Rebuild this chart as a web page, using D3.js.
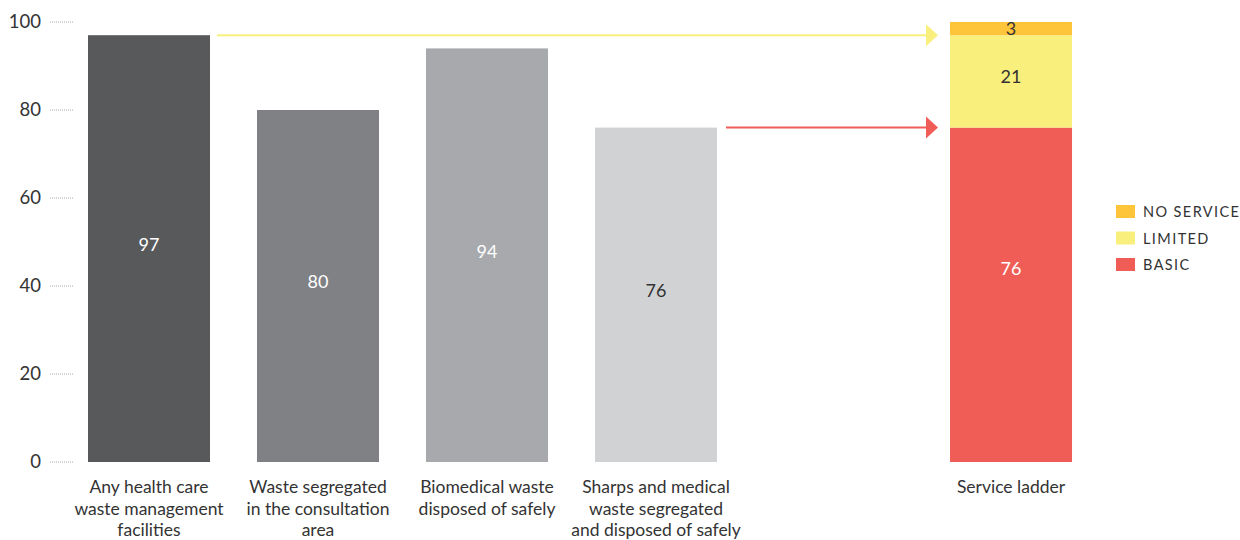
<!DOCTYPE html>
<html>
<head>
<meta charset="utf-8">
<script src="https://cdn.jsdelivr.net/npm/d3@7"></script>
<style>
  body { margin: 0; background: #fff; }
  text { font-family: Lato, "Open Sans", sans-serif; fill: #333; }
</style>
</head>
<body>
<svg id="chart" width="1240" height="540"></svg>
<script>
// indicator bars
var categories = [
  ["Any health care", "waste management", "facilities"],
  ["Waste segregated", "in the consultation", "area"],
  ["Biomedical waste", "disposed of safely"],
  ["Sharps and medical", "waste segregated", "and disposed of safely"]
];
var values = [97, 80, 94, 76];
var barColors = ["#58595b", "#808184", "#a7a9ac", "#d1d2d4"];

// service ladder stack
var ladderLabel = "Service ladder";
var ladderKeys = ["BASIC", "LIMITED", "NO SERVICE"];
var ladderValues = [76, 21, 3];
var ladderColors = ["#f05d57", "#f8ef7c", "#fec53b"];

var yTicks = [0, 20, 40, 60, 80, 100];

var svg = d3.select("#chart");

var y = d3.scaleLinear().domain([0, 100]).range([462, 22]);

var x = d3.scaleBand()
  .domain(d3.range(values.length))
  .range([64.5, 740.5])
  .paddingInner(0.278)
  .paddingOuter(0.139);

var bw = x.bandwidth();
var ladderX = 950;

// y axis: labels and dotted ticks
var axis = svg.append("g");
axis.selectAll("text")
  .data(yTicks)
  .enter().append("text")
  .attr("x", 41)
  .attr("y", function(d) { return y(d); })
  .attr("dy", "0.35em")
  .attr("text-anchor", "end")
  .style("font-size", "18.5px")
  .text(function(d) { return d; });

axis.selectAll("line")
  .data(yTicks)
  .enter().append("line")
  .attr("x1", 50).attr("x2", 74)
  .attr("y1", function(d) { return y(d); })
  .attr("y2", function(d) { return y(d); })
  .attr("stroke", "#aaa")
  .attr("stroke-width", 1)
  .attr("stroke-dasharray", "1,1");

// bars
var bars = svg.append("g").selectAll("g")
  .data(values)
  .enter().append("g");

bars.append("rect")
  .attr("x", function(d, i) { return x(i); })
  .attr("y", function(d) { return y(d); })
  .attr("width", bw)
  .attr("height", function(d) { return y(0) - y(d); })
  .attr("fill", function(d, i) { return barColors[i]; });

bars.append("text")
  .attr("x", function(d, i) { return x(i) + bw / 2; })
  .attr("y", function(d) { return (y(d) + y(0)) / 2 - 4; })
  .attr("dy", "0.35em")
  .attr("text-anchor", "middle")
  .style("font-size", "18px")
  .style("fill", function(d, i) { return i < 3 ? "#fff" : "#333"; })
  .text(function(d) { return d; });

// category labels
bars.append("text")
  .attr("text-anchor", "middle")
  .style("font-size", "17.5px")
  .selectAll("tspan")
  .data(function(d, i) { return categories[i].map(function(t) { return {t: t, i: i}; }); })
  .enter().append("tspan")
  .attr("x", function(d) { return x(d.i) + bw / 2; })
  .attr("y", function(d, j) { return 493 + j * 21.5; })
  .text(function(d) { return d.t; });

// service ladder stack
var stack = d3.stack().keys(d3.range(ladderValues.length))([ladderValues]);

var ladder = svg.append("g").selectAll("g")
  .data(stack)
  .enter().append("g");

ladder.append("rect")
  .attr("x", ladderX)
  .attr("y", function(d) { return y(d[0][1]); })
  .attr("width", bw)
  .attr("height", function(d) { return y(d[0][0]) - y(d[0][1]); })
  .attr("fill", function(d, i) { return ladderColors[i]; });

ladder.append("text")
  .attr("x", ladderX + bw / 2)
  .attr("y", function(d, i) {
    var mid = (y(d[0][0]) + y(d[0][1])) / 2;
    return i === 0 ? mid - 26 : i === 1 ? mid - 5 : mid;
  })
  .attr("dy", "0.35em")
  .attr("text-anchor", "middle")
  .style("font-size", "18px")
  .style("fill", function(d, i) { return i === 0 ? "#fff" : "#333"; })
  .text(function(d, i) { return ladderValues[i]; });

svg.append("text")
  .attr("x", ladderX + bw / 2)
  .attr("y", 493)
  .attr("text-anchor", "middle")
  .style("font-size", "17.5px")
  .text(ladderLabel);

// arrows linking bars to ladder
var arrows = [
  {from: x(0) + bw + 7, v: values[0], color: "#f8ef7c"},
  {from: x(3) + bw + 9, v: values[3], color: "#f05d57"}
];
var ag = svg.append("g").selectAll("g").data(arrows).enter().append("g");
ag.append("line")
  .attr("x1", function(d) { return d.from; })
  .attr("x2", ladderX - 20)
  .attr("y1", function(d) { return y(d.v); })
  .attr("y2", function(d) { return y(d.v); })
  .attr("stroke", function(d) { return d.color; })
  .attr("stroke-width", 2);
ag.append("path")
  .attr("d", function(d) {
    var yy = y(d.v), tip = ladderX - 12;
    return "M" + (tip - 12) + "," + (yy - 11) + "L" + tip + "," + yy + "L" + (tip - 12) + "," + (yy + 11) + "Z";
  })
  .attr("fill", function(d) { return d.color; });

// legend
var legend = svg.append("g").selectAll("g")
  .data(ladderKeys.slice().reverse())
  .enter().append("g")
  .attr("transform", function(d, i) { return "translate(1116," + (205 + i * 26.5) + ")"; });

legend.append("rect")
  .attr("width", 19)
  .attr("height", 13)
  .attr("fill", function(d, i) { return ladderColors[ladderColors.length - 1 - i]; });

legend.append("text")
  .attr("x", 27)
  .attr("y", 7)
  .attr("dy", "0.35em")
  .style("font-size", "14.5px")
  .style("letter-spacing", "1.4px")
  .text(function(d) { return d; });
</script>
</body>
</html>
